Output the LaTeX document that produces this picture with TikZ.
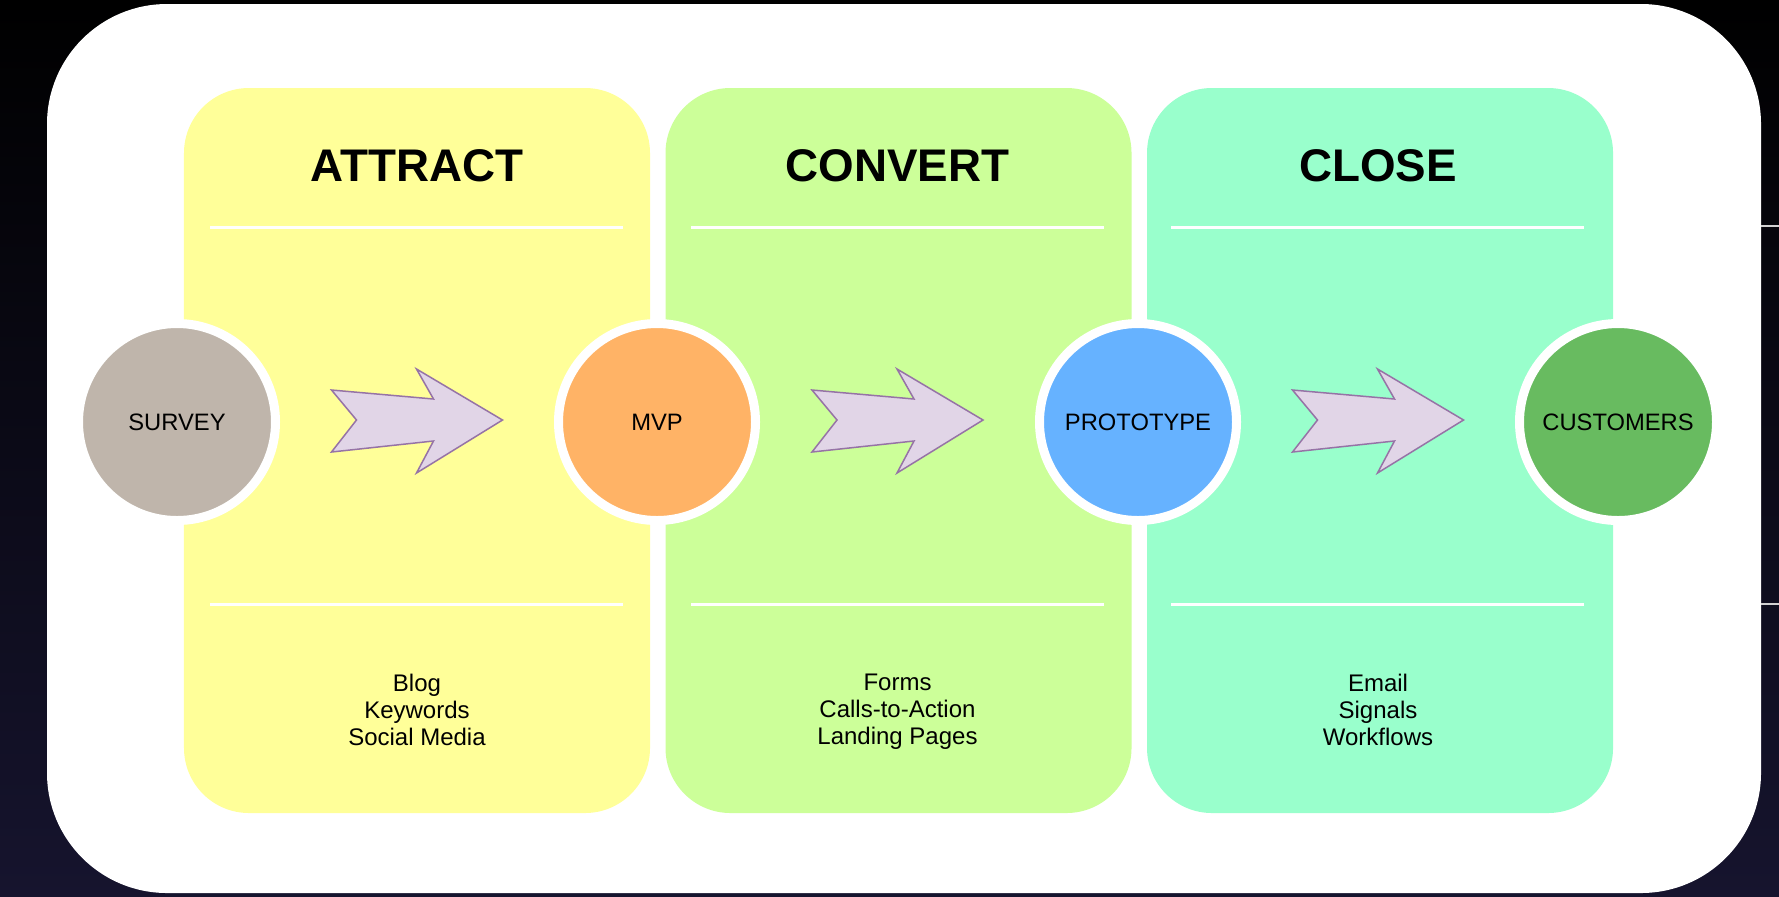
\documentclass[tikz,border=0pt]{standalone}
\usepackage{fontspec}
\setmainfont{Liberation Sans}
\usetikzlibrary{positioning,calc}

\definecolor{attractcol}{HTML}{FFFF99}
\definecolor{convertcol}{HTML}{CCFF99}
\definecolor{closecol}{HTML}{99FFCC}
\definecolor{surveycol}{HTML}{BFB5AB}
\definecolor{mvpcol}{HTML}{FFB366}
\definecolor{protocol}{HTML}{66B2FF}
\definecolor{custcol}{HTML}{68BB60}
\definecolor{arrowfill}{HTML}{E1D5E7}
\definecolor{arrowline}{HTML}{9673A6}
\definecolor{nightcol}{HTML}{16142E}

\tikzset{
  panel/.style={rounded corners=26pt, minimum width=186.4pt, minimum height=290pt, inner sep=0pt},
  stage/.style={circle, draw=white, line width=3.6pt, minimum size=78.8pt, inner sep=0pt, font=\fontsize{9.5}{11}\selectfont},
  heading/.style={font=\fontsize{18.3}{22}\selectfont\bfseries},
  items/.style={anchor=north, align=center, font=\fontsize{9.6}{10.8}\selectfont},
  divider/.style={draw=white, line width=1.2pt},
  bigarrow/.style={fill=arrowfill, draw=arrowline, line width=0.6pt}
}

\begin{document}
\begin{tikzpicture}[x=0.4pt, y=-0.4pt]
  \fill[top color=black, bottom color=nightcol] (0,0) rectangle (1779,896);
  \useasboundingbox (0,0) rectangle (1779,896);
  \fill[white, rounded corners=48pt] (47,4) rectangle (1761,893);
  \draw[gray!35, line width=0.8pt] (1761,226) -- (1779,226);
  \draw[gray!35, line width=0.8pt] (1761,604) -- (1779,604);

  % stage columns
  \node[panel, fill=attractcol] (attract) at (417,450.5) {};
  \node[panel, fill=convertcol, right=5.8pt of attract] (convert) {};
  \node[panel, fill=closecol, right=5.8pt of convert] (close) {};

  \node[heading] (attracttitle) at (417,166) {ATTRACT};
  \node[heading] (converttitle) at (897.5,166) {CONVERT};
  \node[heading] (closetitle) at (1378,166) {CLOSE};

  \draw[divider] (210,227) -- (623,227);
  \draw[divider] (210,604) -- (623,604);
  \draw[divider] (691,227) -- (1104,227);
  \draw[divider] (691,604) -- (1104,604);
  \draw[divider] (1171,227) -- (1584,227);
  \draw[divider] (1171,604) -- (1584,604);

  \node[items] (attractitems) at (417,665) {Blog\\Keywords\\Social Media};
  \node[items] (convertitems) at (897.5,665) {Forms\\Calls-to-Action\\Landing Pages};
  \node[items] (closeitems) at (1378,665) {Email\\Signals\\Workflows};

  % milestones
  \node[stage, fill=surveycol] (survey) at (177,422) {SURVEY};
  \node[stage, fill=mvpcol] (mvp) at (657,422) {MVP};
  \node[stage, fill=protocol] (prototype) at (1138,422) {PROTOTYPE};
  \node[stage, fill=custcol] (customers) at (1618,422) {CUSTOMERS};

  \foreach \from/\to in {survey/mvp, mvp/prototype, prototype/customers}
    \draw[bigarrow, shift={($(\from)!0.5!(\to)$)}]
      (-85.5,-32) -- (-60.5,-2) -- (-85.5,30) -- (16.5,19) -- (-0.5,51)
      -- (85.5,-2) -- (-0.5,-53) -- (16.5,-23) -- cycle;
\end{tikzpicture}
\end{document}
